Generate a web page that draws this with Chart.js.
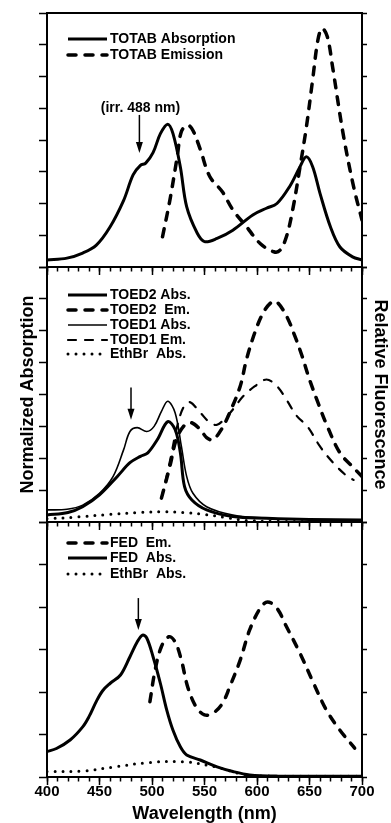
<!DOCTYPE html>
<html>
<head>
<meta charset="utf-8">
<script src="https://cdn.jsdelivr.net/npm/chart.js@4"></script>
<style>
  html, body { margin: 0; padding: 0; background: #fff; }
  #wrap { position: relative; width: 391px; height: 823px; }
  #wrap canvas { position: absolute; left: 0; top: 0; }
</style>
</head>
<body>
<div id="wrap">
  <canvas id="panel1" width="391" height="823"></canvas>
  <canvas id="panel2" width="391" height="823"></canvas>
  <canvas id="panel3" width="391" height="823"></canvas>
</div>
<script>
// ---- datos (nm, valor en unidades de la rejilla) ----

// Panel 1: TOTAB
const totabAbsNm = [400, 419, 434, 447, 460, 473, 482, 489, 494, 501, 508, 515, 520, 527, 533, 543, 550, 562, 577, 596, 609, 619, 631, 641, 647, 653, 660, 670, 679, 691, 700];
const totabAbs   = [0.22, 0.28, 0.44, 0.69, 1.26, 2.1, 2.9, 3.2, 3.27, 3.6, 4.2, 4.5, 4.2, 3.15, 1.9, 1.07, 0.8, 0.9, 1.16, 1.64, 1.85, 2.0, 2.53, 3.16, 3.47, 3.16, 2.32, 1.26, 0.63, 0.32, 0.22];
const totabEmNm  = [510, 517, 524, 528, 534, 539, 546, 555, 567, 577, 590, 603, 616, 622, 628, 634, 641, 647, 653, 658, 662, 667, 672, 682, 692, 700];
const totabEm    = [0.95, 2.1, 3.47, 4.27, 4.47, 4.3, 3.7, 2.85, 2.37, 1.8, 1.27, 0.74, 0.48, 0.53, 0.95, 1.8, 3.16, 4.4, 5.9, 7.15, 7.52, 7.25, 6.3, 4.2, 2.53, 1.48];

// Panel 2: TOED2 / TOED1 / EthBr
const toed2AbsNm = [400, 420, 434, 450, 467, 479, 489, 496, 505, 515, 522, 527, 531, 538, 552, 577, 609, 650, 700];
const toed2Abs   = [0.22, 0.3, 0.48, 0.85, 1.43, 1.86, 2.06, 2.17, 2.58, 3.15, 2.9, 2.17, 1.11, 0.69, 0.38, 0.17, 0.12, 0.08, 0.06];
const toed2EmNm  = [509, 517, 523, 530, 537, 546, 552, 558, 566, 574, 584, 590, 598, 606, 614, 619, 628, 636, 643, 650, 658, 667, 679, 692, 700];
const toed2Em    = [0.75, 1.74, 2.58, 3.0, 3.12, 2.9, 2.65, 2.58, 2.9, 3.43, 4.26, 5.1, 5.95, 6.57, 6.9, 6.9, 6.47, 5.84, 5.2, 4.47, 3.75, 3.0, 2.17, 1.7, 1.43];
const toed1AbsNm = [400, 419, 434, 450, 463, 473, 479, 486, 495, 502, 509, 515, 522, 528, 533, 539, 552, 577, 609, 650, 700];
const toed1Abs   = [0.38, 0.4, 0.53, 0.9, 1.43, 2.27, 2.84, 2.96, 2.84, 3.0, 3.47, 3.79, 3.43, 2.37, 1.43, 0.9, 0.48, 0.22, 0.12, 0.08, 0.06];
const toed1EmNm  = [509, 517, 524, 530, 536, 546, 555, 562, 571, 577, 587, 598, 609, 619, 628, 638, 648, 660, 673, 686, 692];
const toed1Em    = [0.75, 1.9, 3.0, 3.6, 3.76, 3.43, 3.12, 3.05, 3.3, 3.53, 3.95, 4.26, 4.47, 4.26, 3.84, 3.32, 3.0, 2.37, 1.84, 1.43, 1.32];
const ethbr2Nm   = [400, 430, 460, 490, 510, 530, 550, 570, 590, 620, 660, 700];
const ethbr2     = [0.1, 0.16, 0.24, 0.3, 0.32, 0.3, 0.24, 0.14, 0.05, 0.02, 0.02, 0.02];

// Panel 3: FED / EthBr
const fedEmNm    = [498, 503, 509, 516, 522, 528, 534, 542, 550, 558, 567, 574, 584, 593, 603, 610, 619, 628, 641, 654, 666, 679, 693];
const fedEm      = [1.77, 2.52, 3.07, 3.3, 3.18, 2.75, 2.12, 1.65, 1.46, 1.5, 1.73, 2.12, 2.75, 3.46, 3.97, 4.12, 3.97, 3.54, 2.91, 2.2, 1.58, 1.1, 0.68];
const fedAbsNm   = [400, 409, 422, 434, 440, 447, 453, 460, 470, 479, 486, 491, 495, 501, 508, 514, 520, 527, 533, 546, 562, 577, 593, 620, 660, 700];
const fedAbs     = [0.6, 0.67, 0.87, 1.18, 1.42, 1.78, 2.03, 2.2, 2.4, 2.83, 3.18, 3.34, 3.27, 2.83, 2.2, 1.58, 1.1, 0.71, 0.52, 0.4, 0.24, 0.13, 0.05, 0.02, 0.02, 0.02];
const ethbr3Nm   = [400, 434, 465, 497, 530, 560, 590, 620, 660, 700];
const ethbr3     = [0.13, 0.14, 0.24, 0.34, 0.36, 0.24, 0.05, 0.02, 0.02, 0.02];

// Eje X compartido
const xMin = 400;
const xMax = 700;
const xLabelStep = 50;
const xMinorStep = 10;

const FONT = '"Liberation Sans", Arial, Helvetica, sans-serif';

function puntos(nm, vals) {
    let res = [];
    for (let i = 0; i < nm.length; i++) {
        res.push({ x: nm[i], y: vals[i] });
    }
    return res;
}

// estilos de linea
const solidThick = { borderWidth: 3 };
const solidThin = { borderWidth: 1.6 };
const dashThick = { borderWidth: 3.5, borderDash: [8, 9], borderCapStyle: 'round' };
const dashThin = { borderWidth: 2.2, borderDash: [8, 9], borderCapStyle: 'round' };
const dotted = { borderWidth: 3, borderDash: [0, 8], borderCapStyle: 'round' };

function serie(label, nm, vals, estilo, eje) {
    return Object.assign({
        label: label,
        data: puntos(nm, vals),
        yAxisID: eje,
        borderColor: '#000',
        backgroundColor: '#000',
        pointRadius: 0,
        tension: 0.35,
        fill: false
    }, estilo);
}

// Plugin para marco, leyenda dentro del panel y flechas
const decoPlugin = {
    id: 'deco',
    afterDraw(chart, args, opts) {
        const ctx = chart.ctx;
        const a = chart.chartArea;
        const sx = chart.scales.x;
        const sy = chart.scales.y;
        ctx.save();
        ctx.strokeStyle = '#000';
        ctx.fillStyle = '#000';
        ctx.lineWidth = 2;
        ctx.strokeRect(a.left, a.top, a.right - a.left, a.bottom - a.top);

        // leyenda
        ctx.font = 'bold 14px ' + FONT;
        ctx.textBaseline = 'middle';
        ctx.textAlign = 'left';
        chart.data.datasets.forEach(function(ds, i) {
            let y = opts.legendRows[i];
            ctx.beginPath();
            ctx.lineWidth = ds.borderWidth;
            ctx.setLineDash(ds.borderDash || []);
            ctx.lineCap = ds.borderCapStyle || 'butt';
            ctx.moveTo(opts.legendX, y);
            ctx.lineTo(opts.legendX + 39, y);
            ctx.stroke();
            ctx.setLineDash([]);
            ctx.fillText(ds.label, opts.legendX + 42, y + 0.5);
        });

        // flecha de irradiacion
        if (opts.arrow) {
            let x = sx.getPixelForValue(opts.arrow.nm);
            let y1 = sy.getPixelForValue(opts.arrow.from);
            let y2 = sy.getPixelForValue(opts.arrow.to);
            ctx.lineWidth = 1.5;
            ctx.lineCap = 'butt';
            ctx.beginPath();
            ctx.moveTo(x, y1);
            ctx.lineTo(x, y2 - 8);
            ctx.stroke();
            ctx.beginPath();
            ctx.moveTo(x - 3.5, y2 - 11);
            ctx.lineTo(x + 3.5, y2 - 11);
            ctx.lineTo(x, y2);
            ctx.closePath();
            ctx.fill();
        }
        if (opts.note) {
            ctx.textAlign = 'center';
            ctx.fillText(opts.note.text, sx.getPixelForValue(opts.note.nm), sy.getPixelForValue(opts.note.val));
        }
        ctx.restore();
    }
};

function crearPanel(id, top, bottom, yMax, datasets, deco, ultimo, conTitulos) {
    let tickFont = { family: FONT, size: 15, weight: 'bold' };
    let titleFont = { family: FONT, size: 18, weight: 'bold', lineHeight: 1 };
    let ctx = document.getElementById(id).getContext('2d');
    return new Chart(ctx, {
        type: 'line',
        data: { datasets: datasets },
        plugins: [decoPlugin],
        options: {
            responsive: false,
            animation: false,
            events: [],
            layout: { padding: { top: top, left: 0, right: 0, bottom: 0 } },
            plugins: {
                legend: { display: false },
                tooltip: { enabled: false },
                deco: deco
            },
            scales: {
                x: {
                    type: 'linear',
                    position: 'bottom',
                    min: xMin,
                    max: xMax,
                    afterFit: function(scale) { scale.height = 823 - bottom; },
                    ticks: {
                        stepSize: xLabelStep,
                        display: ultimo,
                        font: tickFont,
                        color: '#000',
                        padding: -2,
                        maxRotation: 0
                    },
                    grid: { drawOnChartArea: false, tickLength: 8, tickWidth: 1.5, tickColor: '#000' },
                    border: { display: false },
                    title: {
                        display: ultimo,
                        text: 'Wavelength (nm)',
                        font: titleFont,
                        color: '#000',
                        padding: { top: 0, bottom: 0 }
                    }
                },
                xMinor: {
                    type: 'linear',
                    axis: 'x',
                    position: { y: 0 },
                    min: xMin,
                    max: xMax,
                    ticks: { stepSize: xMinorStep, display: false },
                    grid: { drawOnChartArea: false, tickLength: 4.5, tickWidth: 1.5, tickColor: '#000' },
                    border: { display: false }
                },
                y: {
                    type: 'linear',
                    position: 'left',
                    min: 0,
                    max: yMax,
                    afterFit: function(scale) { scale.width = 47; },
                    ticks: { stepSize: 1, display: false },
                    grid: { drawOnChartArea: false, tickLength: 8, tickWidth: 1.5, tickColor: '#000' },
                    border: { display: false },
                    title: {
                        display: conTitulos,
                        text: 'Normalized Absorption',
                        font: titleFont,
                        color: '#000',
                        padding: { top: 19, bottom: 0 }
                    }
                },
                y2: {
                    type: 'linear',
                    position: 'right',
                    min: 0,
                    max: yMax,
                    afterFit: function(scale) { scale.width = 391 - 362; },
                    ticks: { stepSize: 1, display: false },
                    grid: { drawOnChartArea: false, tickLength: 5, tickWidth: 1.5, tickColor: '#000' },
                    border: { display: false },
                    title: {
                        display: conTitulos,
                        text: 'Relative Fluorescence',
                        font: titleFont,
                        color: '#000',
                        padding: { top: 2, bottom: 0 }
                    }
                }
            }
        }
    });
}

// Panel 1
crearPanel('panel1', 13, 267, 8, [
    serie('TOTAB Absorption', totabAbsNm, totabAbs, solidThick, 'y'),
    serie('TOTAB Emission', totabEmNm, totabEm, dashThick, 'y2')
], {
    legendX: 68,
    legendRows: [39, 55],
    arrow: { nm: 488, from: 4.79, to: 3.59 },
    note: { text: '(irr. 488 nm)', nm: 489, val: 5.0 }
}, false, false);

// Panel 2
crearPanel('panel2', 267, 522, 8, [
    serie('TOED2 Abs.', toed2AbsNm, toed2Abs, solidThick, 'y'),
    serie('TOED2  Em.', toed2EmNm, toed2Em, dashThick, 'y2'),
    serie('TOED1 Abs.', toed1AbsNm, toed1Abs, solidThin, 'y'),
    serie('TOED1 Em.', toed1EmNm, toed1Em, dashThin, 'y2'),
    serie('EthBr  Abs.', ethbr2Nm, ethbr2, dotted, 'y')
], {
    legendX: 68,
    legendRows: [295, 310, 325, 340, 354],
    arrow: { nm: 480, from: 4.22, to: 3.21 }
}, false, true);

// Panel 3
crearPanel('panel3', 522, 777, 6, [
    serie('FED  Em.', fedEmNm, fedEm, dashThick, 'y2'),
    serie('FED  Abs.', fedAbsNm, fedAbs, solidThick, 'y'),
    serie('EthBr  Abs.', ethbr3Nm, ethbr3, dotted, 'y')
], {
    legendX: 68,
    legendRows: [543, 558, 574],
    arrow: { nm: 487, from: 4.21, to: 3.46 }
}, true, false);
</script>
</body>
</html>
